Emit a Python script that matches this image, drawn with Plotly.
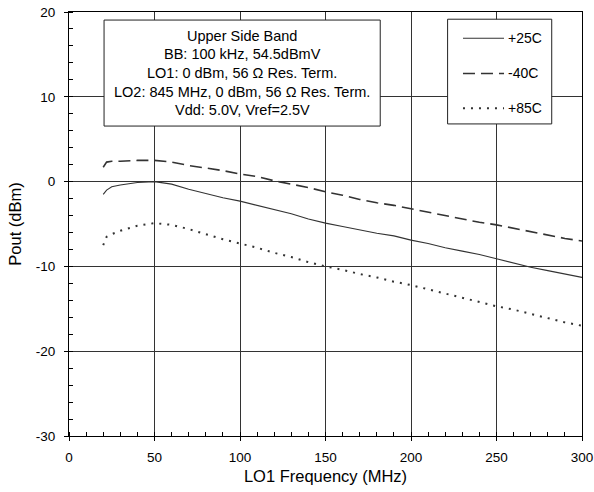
import plotly.graph_objects as go

# LO1 frequency sweep (MHz)
freq_mhz = [20, 22, 25, 30, 40, 50, 60, 70, 80, 90, 100, 110, 120, 130, 140, 150,
            160, 170, 180, 190, 200, 210, 220, 230, 240, 250, 260, 270, 280, 290, 300]

# Output power (dBm) per temperature
pout_25c = [-1.5, -1.0, -0.6, -0.4, -0.1, 0.0, -0.3, -0.9, -1.4, -1.9, -2.3, -2.8, -3.3,
            -3.8, -4.4, -4.9, -5.3, -5.7, -6.1, -6.4, -6.9, -7.3, -7.8, -8.2, -8.6, -9.1,
            -9.6, -10.1, -10.5, -10.9, -11.3]
pout_m40c = [1.7, 2.3, 2.4, 2.4, 2.5, 2.5, 2.3, 1.9, 1.6, 1.3, 0.9, 0.6, 0.1, -0.3, -0.7,
             -1.2, -1.6, -2.1, -2.5, -2.8, -3.2, -3.6, -4.0, -4.4, -4.8, -5.1, -5.5, -5.9,
             -6.3, -6.7, -7.0]
pout_85c = [-7.5, -6.5, -6.2, -5.8, -5.2, -4.9, -5.1, -5.6, -6.2, -6.8, -7.3, -7.8, -8.4,
            -8.9, -9.5, -10.0, -10.4, -10.9, -11.3, -11.8, -12.2, -12.7, -13.2, -13.7,
            -14.2, -14.7, -15.1, -15.6, -16.1, -16.6, -17.0]

series_names = ["+25C", "-40C", "+85C"]

x_ticks = [0, 50, 100, 150, 200, 250, 300]
y_ticks = [-30, -20, -10, 0, 10, 20]
y_tick_text = ["-30", "-20", "-10", "0", "10", "20"]

conditions = [
    "Upper Side Band",
    "BB: 100 kHz, 54.5dBmV",
    "LO1: 0 dBm, 56 Ω Res. Term.",
    "LO2: 845 MHz, 0 dBm, 56 Ω Res. Term.",
    "Vdd: 5.0V, Vref=2.5V",
]

FONT = "Liberation Sans, Arial, sans-serif"
INK = "#222222"
LINE = "#333333"

styles = [
    dict(width=1.1, dash="solid"),
    dict(width=1.6, dash="12px,6px"),
    dict(width=2.0, dash="2px,6px"),
]

fig = go.Figure()
for name, ys, st in zip(series_names, [pout_25c, pout_m40c, pout_85c], styles):
    fig.add_trace(go.Scatter(
        x=freq_mhz, y=ys, mode="lines", name=name, showlegend=False,
        line=dict(color=LINE, width=st["width"], dash=st["dash"]),
    ))

# Test-condition box (data coordinates)
fig.add_shape(type="rect", xref="x", yref="y", x0=20.5, x1=182.0, y0=6.55, y1=19.05,
              line=dict(color=INK, width=1), fillcolor="white", layer="above")
line_y = [17.22, 15.0, 12.78, 10.6, 8.43]
for txt, yy in zip(conditions, line_y):
    fig.add_annotation(x=101.3, y=yy, xref="x", yref="y", text=txt, showarrow=False,
                       font=dict(family=FONT, size=14.5, color="black"),
                       xanchor="center", yanchor="middle")

# Boxed key (paper coordinates)
fig.add_shape(type="rect", xref="paper", yref="paper", x0=0.738, x1=0.941, y0=0.736,
              y1=0.983, line=dict(color=INK, width=1), fillcolor="white", layer="above")
key_y = [0.938, 0.855, 0.773]
for name, st, ky in zip(series_names, styles, key_y):
    fig.add_shape(type="line", xref="paper", yref="paper", x0=0.768, x1=0.848, y0=ky, y1=ky,
                  line=dict(color=LINE, width=st["width"], dash=st["dash"]), layer="above")
    fig.add_annotation(x=0.851, y=ky, xref="paper", yref="paper", text=name,
                       showarrow=False, xanchor="left", yanchor="middle",
                       font=dict(family=FONT, size=14, color="black"))

axis_common = dict(
    showline=True, linecolor="black", linewidth=1, mirror=True, automargin=False,
    showgrid=True, gridcolor="#333333", gridwidth=1, zeroline=False,
    ticks="outside", ticklen=4, tickcolor="black",
    tickfont=dict(family=FONT, size=13.5, color="black"),
)

fig.update_xaxes(
    range=[0, 300], tickvals=x_ticks, ticklabelstandoff=5,
    minor=dict(dtick=10, ticks="inside", ticklen=4, tickcolor="black", showgrid=False),
    title=dict(text="LO1 Frequency (MHz)", font=dict(family=FONT, size=16.5, color="black"),
               standoff=6),
    **axis_common,
)
fig.update_yaxes(
    range=[-30, 20], tickvals=y_ticks, ticktext=y_tick_text, ticklabelstandoff=6,
    minor=dict(dtick=2, ticks="inside", ticklen=4, tickcolor="black", showgrid=False),
    title=dict(text="Pout (dBm)", font=dict(family=FONT, size=16.5, color="black"),
               standoff=10),
    **axis_common,
)

fig.update_layout(
    width=594, height=492,
    margin=dict(l=69, r=12, t=12, b=56),
    plot_bgcolor="white", paper_bgcolor="white",
    font=dict(family=FONT, size=13, color="black"),
    showlegend=False,
)

fig.write_html("out.html")
